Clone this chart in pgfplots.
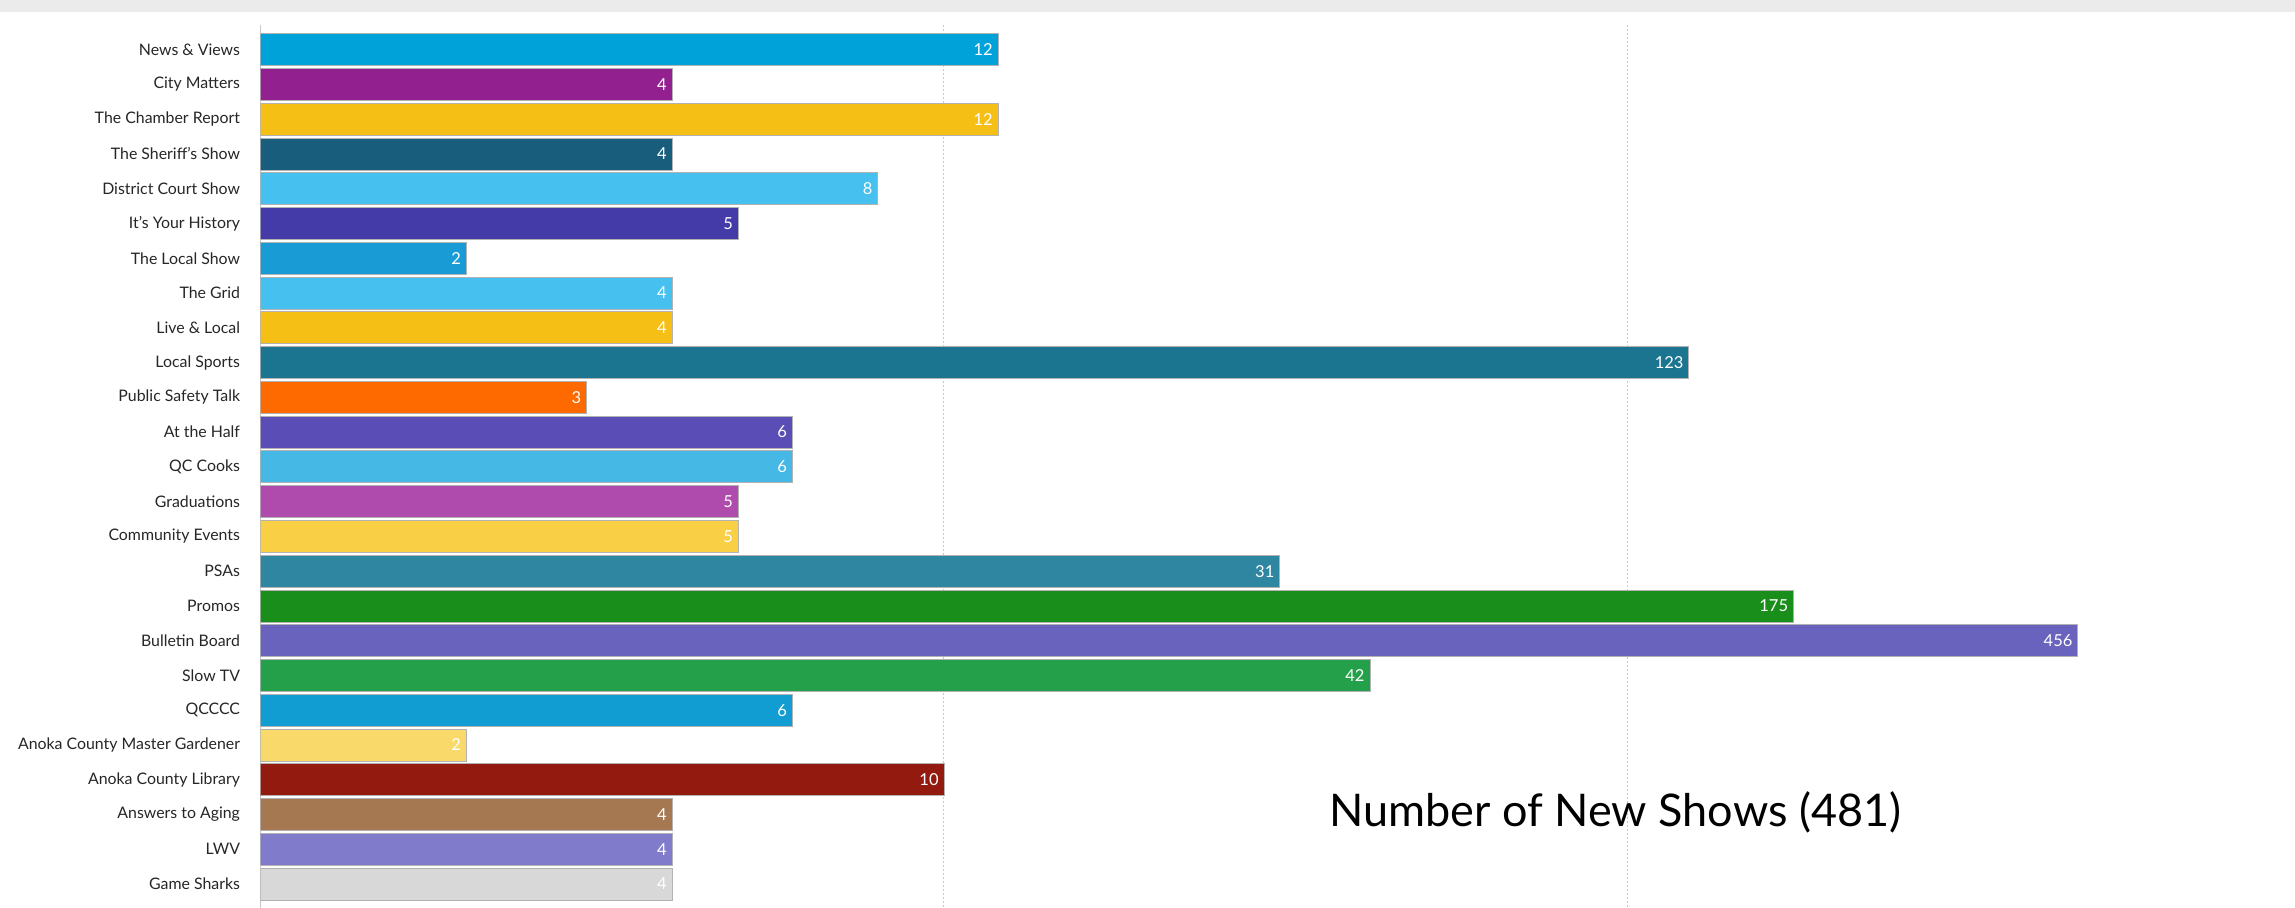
\documentclass[border=0pt]{standalone}
\usepackage{pgfplots}
\pgfplotsset{compat=1.18}
\usepackage{fontspec}
\setmainfont{Lato}
\definecolor{c1}{HTML}{00A3D9}
\definecolor{c2}{HTML}{93208F}
\definecolor{c3}{HTML}{F5BF15}
\definecolor{c4}{HTML}{185E7C}
\definecolor{c5}{HTML}{45C0EF}
\definecolor{c6}{HTML}{443AA8}
\definecolor{c7}{HTML}{199CD5}
\definecolor{c8}{HTML}{45C0EF}
\definecolor{c9}{HTML}{F5BF15}
\definecolor{c10}{HTML}{1B7490}
\definecolor{c11}{HTML}{FF6A00}
\definecolor{c12}{HTML}{5A4DB5}
\definecolor{c13}{HTML}{45B8E5}
\definecolor{c14}{HTML}{B04BAE}
\definecolor{c15}{HTML}{F8CF45}
\definecolor{c16}{HTML}{2E86A1}
\definecolor{c17}{HTML}{1A8E1A}
\definecolor{c18}{HTML}{6A63BD}
\definecolor{c19}{HTML}{25A04A}
\definecolor{c20}{HTML}{129DD2}
\definecolor{c21}{HTML}{F8D96A}
\definecolor{c22}{HTML}{931A0E}
\definecolor{c23}{HTML}{A67852}
\definecolor{c24}{HTML}{817BCB}
\definecolor{c25}{HTML}{D8D8D8}
\definecolor{band}{HTML}{EBEBEB}
\definecolor{gridc}{HTML}{C8C8C8}
\begin{document}
\begin{tikzpicture}
\path[use as bounding box] (0,0) rectangle (918pt,363.2pt);
\fill[band] (0,358.4pt) rectangle (918pt,363.2pt);
\begin{axis}[
  at={(104.2pt,0pt)}, anchor=south west,
  scale only axis, width=813.8pt, height=353.2pt,
  xmode=log, xmin=1, xmax=948,
  ymin=-0.71, ymax=24.69, y dir=reverse,
  xbar, bar width=0.92, bar shift=0pt,
  xtick={10,100}, xticklabels={},
  xmajorgrids, grid style={gridc, dash pattern=on 0.8pt off 0.8pt, line width=0.4pt},
  ytick={0,...,24},
  yticklabels={News \& Views, City Matters, The Chamber Report, The Sheriff’s Show, District Court Show, It’s Your History, The Local Show, The Grid, Live \& Local, Local Sports, Public Safety Talk, At the Half, QC Cooks, Graduations, Community Events, PSAs, Promos, Bulletin Board, Slow TV, QCCCC, Anoka County Master Gardener, Anoka County Library, Answers to Aging, LWV, Game Sharks},
  yticklabel style={font=\fontsize{6.35}{8}\selectfont, text=black!85, inner sep=0pt},
  yticklabel shift=8pt,
  major tick length=0pt, minor tick length=0pt,
  axis x line*=bottom, x axis line style={draw=none},
  axis y line*=left, y axis line style={gridc, line width=0.6pt, -},
  point meta=explicit symbolic,
  nodes near coords,
  every node near coord/.append style={anchor=east, text=white, font=\fontsize{6.6}{8}\selectfont, inner sep=2pt},
  every axis plot/.append style={draw=white!70!black, line width=0.3pt},
]
\addplot[fill=c1] coordinates {(12,0) [12]};
\addplot[fill=c2] coordinates {(4,1) [4]};
\addplot[fill=c3] coordinates {(12,2) [12]};
\addplot[fill=c4] coordinates {(4,3) [4]};
\addplot[fill=c5] coordinates {(8,4) [8]};
\addplot[fill=c6] coordinates {(5,5) [5]};
\addplot[fill=c7] coordinates {(2,6) [2]};
\addplot[fill=c8] coordinates {(4,7) [4]};
\addplot[fill=c9] coordinates {(4,8) [4]};
\addplot[fill=c10] coordinates {(123,9) [123]};
\addplot[fill=c11] coordinates {(3,10) [3]};
\addplot[fill=c12] coordinates {(6,11) [6]};
\addplot[fill=c13] coordinates {(6,12) [6]};
\addplot[fill=c14] coordinates {(5,13) [5]};
\addplot[fill=c15] coordinates {(5,14) [5]};
\addplot[fill=c16] coordinates {(31,15) [31]};
\addplot[fill=c17] coordinates {(175,16) [175]};
\addplot[fill=c18] coordinates {(456,17) [456]};
\addplot[fill=c19] coordinates {(42,18) [42]};
\addplot[fill=c20] coordinates {(6,19) [6]};
\addplot[fill=c21] coordinates {(2,20) [2]};
\addplot[fill=c22] coordinates {(10,21) [10]};
\addplot[fill=c23] coordinates {(4,22) [4]};
\addplot[fill=c24] coordinates {(4,23) [4]};
\addplot[fill=c25] coordinates {(4,24) [4]};
\node[font=\fontsize{18}{22}\selectfont, text=black] at (axis cs:96,21.93) {Number of New Shows (481)};
\end{axis}
\end{tikzpicture}
\end{document}
